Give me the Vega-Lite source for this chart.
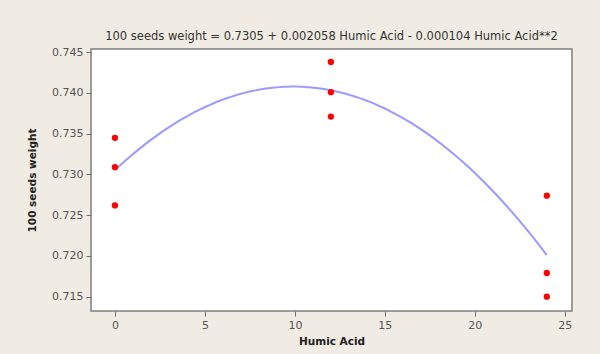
{
  "$schema": "https://vega.github.io/schema/vega-lite/v6.json",
  "width": 481,
  "height": 262,
  "autosize": {"type": "none"},
  "padding": {"left": 91, "top": 49, "right": 28, "bottom": 43},
  "background": "#f0ece3",
  "title": {
    "text": "100 seeds weight =  0.7305 + 0.002058 Humic Acid - 0.000104 Humic Acid**2",
    "font": "DejaVu Sans",
    "fontSize": 11.5,
    "fontWeight": "normal",
    "color": "#333333",
    "anchor": "middle",
    "offset": 4
  },
  "config": {
    "view": {"fill": "#ffffff", "stroke": "#7f7f7f", "strokeWidth": 1.5},
    "axis": {
      "grid": false,
      "domain": false,
      "tickColor": "#6f6f6f",
      "tickSize": 5,
      "labelFont": "DejaVu Sans",
      "labelFontSize": 11,
      "labelColor": "#555555",
      "titleFont": "DejaVu Sans",
      "titleFontSize": 10.5,
      "titleFontWeight": "bold",
      "titleColor": "#222222"
    }
  },
  "data": {
    "values": [
      {"Humic Acid": 0, "100 seeds weight": 0.7345},
      {"Humic Acid": 0, "100 seeds weight": 0.7309},
      {"Humic Acid": 0, "100 seeds weight": 0.7262},
      {"Humic Acid": 12, "100 seeds weight": 0.7438},
      {"Humic Acid": 12, "100 seeds weight": 0.7401},
      {"Humic Acid": 12, "100 seeds weight": 0.7371},
      {"Humic Acid": 24, "100 seeds weight": 0.7274},
      {"Humic Acid": 24, "100 seeds weight": 0.7179},
      {"Humic Acid": 24, "100 seeds weight": 0.7150}
    ]
  },
  "encoding": {
    "x": {
      "field": "Humic Acid",
      "type": "quantitative",
      "scale": {"domain": [-1.33, 25.4], "nice": false, "zero": false},
      "axis": {"values": [0, 5, 10, 15, 20, 25], "title": "Humic Acid", "titleY": 30, "titleBaseline": "middle", "labelPadding": 3}
    },
    "y": {
      "field": "100 seeds weight",
      "type": "quantitative",
      "scale": {"domain": [0.71324, 0.7454], "nice": false, "zero": false},
      "axis": {
        "values": [0.715, 0.72, 0.725, 0.73, 0.735, 0.74, 0.745],
        "format": ".3f",
        "title": "100 seeds weight",
        "titleX": -59,
        "titleY": 131,
        "titleAngle": -90,
        "titleAlign": "center",
        "titleBaseline": "middle",
        "labelPadding": 3
      }
    }
  },
  "layer": [
    {
      "transform": [
        {"regression": "100 seeds weight", "on": "Humic Acid", "method": "poly", "order": 2, "extent": [0, 24]}
      ],
      "mark": {"type": "line", "color": "#9a9aff", "strokeWidth": 2, "interpolate": "monotone"}
    },
    {
      "mark": {"type": "circle", "color": "#ff0000", "size": 40, "opacity": 1}
    }
  ]
}
